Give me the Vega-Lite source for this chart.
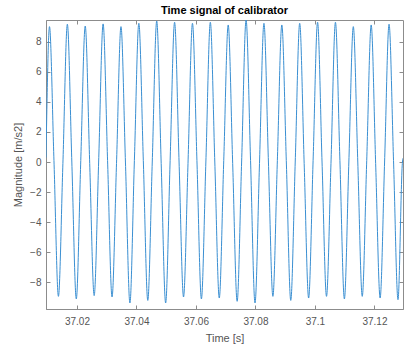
{
  "$schema": "https://vega.github.io/schema/vega-lite/v6.json",
  "autosize": {"type": "none"},
  "padding": {"left": 46, "top": 20, "right": 1, "bottom": 37},
  "width": 357,
  "height": 289,
  "background": "white",
  "config": {
    "font": "Liberation Sans",
    "view": {"stroke": "#8c8c8c", "strokeWidth": 1},
    "axis": {
      "grid": false,
      "domainColor": "#8c8c8c",
      "tickColor": "#8c8c8c",
      "labelColor": "#555555",
      "titleColor": "#555555",
      "labelFont": "Liberation Sans",
      "titleFont": "Liberation Sans",
      "labelFontSize": 10,
      "titleFontSize": 11,
      "titleFontWeight": "normal",
      "tickSize": -4
    }
  },
  "title": {
    "text": "Time signal of calibrator",
    "font": "Liberation Sans",
    "fontSize": 11,
    "fontWeight": "bold",
    "color": "#000000",
    "anchor": "middle",
    "offset": 4
  },
  "data": {
    "values": [
      {"t": 37.0096, "v": 0.3},
      {"t": 37.010773, "v": 9.0}, {"t": 37.012275, "v": 0.1}, {"t": 37.013777, "v": -8.93}, {"t": 37.015279, "v": -0.1},
      {"t": 37.016780, "v": 9.16}, {"t": 37.018282, "v": 0.0}, {"t": 37.019784, "v": -9.1}, {"t": 37.021286, "v": 0.1},
      {"t": 37.022788, "v": 9.04}, {"t": 37.024290, "v": -0.1}, {"t": 37.025792, "v": -8.88}, {"t": 37.027294, "v": 0.0},
      {"t": 37.028795, "v": 9.18}, {"t": 37.030297, "v": 0.1}, {"t": 37.031799, "v": -8.97}, {"t": 37.033301, "v": -0.1},
      {"t": 37.034803, "v": 9.0}, {"t": 37.036305, "v": 0.0}, {"t": 37.037807, "v": -9.37}, {"t": 37.039309, "v": 0.1},
      {"t": 37.040810, "v": 9.22}, {"t": 37.042312, "v": 0.1}, {"t": 37.043814, "v": -9.2}, {"t": 37.045316, "v": 0.0},
      {"t": 37.046817, "v": 9.37}, {"t": 37.048319, "v": -0.1}, {"t": 37.049821, "v": -9.37}, {"t": 37.051323, "v": 0.1},
      {"t": 37.052825, "v": 9.29}, {"t": 37.054327, "v": 0.0}, {"t": 37.055829, "v": -8.97}, {"t": 37.057331, "v": -0.1},
      {"t": 37.058832, "v": 9.22}, {"t": 37.060334, "v": 0.1}, {"t": 37.061836, "v": -9.1}, {"t": 37.063338, "v": 0.0},
      {"t": 37.064840, "v": 9.29}, {"t": 37.066342, "v": 0.0}, {"t": 37.067844, "v": -9.04}, {"t": 37.069346, "v": 0.1},
      {"t": 37.070847, "v": 9.11}, {"t": 37.072349, "v": -0.1}, {"t": 37.073851, "v": -9.26}, {"t": 37.075353, "v": 0.0},
      {"t": 37.076854, "v": 9.44}, {"t": 37.078356, "v": 0.1}, {"t": 37.079858, "v": -9.37}, {"t": 37.081360, "v": -0.1},
      {"t": 37.082862, "v": 9.22}, {"t": 37.084364, "v": 0.0}, {"t": 37.085866, "v": -8.93}, {"t": 37.087368, "v": 0.1},
      {"t": 37.088869, "v": 9.11}, {"t": 37.090371, "v": 0.1}, {"t": 37.091873, "v": -9.2}, {"t": 37.093375, "v": 0.0},
      {"t": 37.094877, "v": 9.22}, {"t": 37.096379, "v": -0.1}, {"t": 37.097881, "v": -9.04}, {"t": 37.099383, "v": 0.1},
      {"t": 37.100884, "v": 9.29}, {"t": 37.102386, "v": 0.0}, {"t": 37.103888, "v": -8.93}, {"t": 37.105390, "v": -0.1},
      {"t": 37.106891, "v": 9.29}, {"t": 37.108393, "v": 0.1}, {"t": 37.109895, "v": -9.1}, {"t": 37.111397, "v": 0.0},
      {"t": 37.112899, "v": 9.0}, {"t": 37.114401, "v": 0.0}, {"t": 37.115903, "v": -8.93}, {"t": 37.117405, "v": 0.1},
      {"t": 37.118906, "v": 9.11}, {"t": 37.120408, "v": -0.1}, {"t": 37.121910, "v": -9.04}, {"t": 37.123412, "v": 0.0},
      {"t": 37.124914, "v": 9.16}, {"t": 37.126416, "v": 0.1}, {"t": 37.127918, "v": -9.15}, {"t": 37.129420, "v": 0.0},
      {"t": 37.1296, "v": 0.25}
    ]
  },
  "layer": [
    {
      "mark": {"type": "line", "color": "#3a8fd2", "strokeWidth": 1, "interpolate": "monotone", "clip": true},
      "encoding": {
        "x": {
          "field": "t", "type": "quantitative",
          "scale": {"domain": [37.0096, 37.1296], "nice": false, "zero": false},
          "axis": {"orient": "bottom", "values": [37.02, 37.04, 37.06, 37.08, 37.1, 37.12], "format": ".2~f", "title": "Time [s]", "labelPadding": 11, "titlePadding": 6}
        },
        "y": {
          "field": "v", "type": "quantitative",
          "scale": {"domain": [-9.77, 9.44], "nice": false, "zero": false},
          "axis": {"orient": "left", "values": [-8, -6, -4, -2, 0, 2, 4, 6, 8], "title": "Magnitude [m/s2]", "labelPadding": 9, "titlePadding": 6}
        }
      }
    },
    {
      "mark": {"type": "line", "strokeOpacity": 0, "clip": true},
      "encoding": {
        "x": {
          "field": "t", "type": "quantitative",
          "axis": {"orient": "top", "values": [37.02, 37.04, 37.06, 37.08, 37.1, 37.12], "labels": false, "title": null, "domain": false}
        },
        "y": {
          "field": "v", "type": "quantitative",
          "axis": {"orient": "right", "values": [-8, -6, -4, -2, 0, 2, 4, 6, 8], "labels": false, "title": null, "domain": false}
        }
      }
    }
  ],
  "resolve": {"axis": {"x": "independent", "y": "independent"}}
}
